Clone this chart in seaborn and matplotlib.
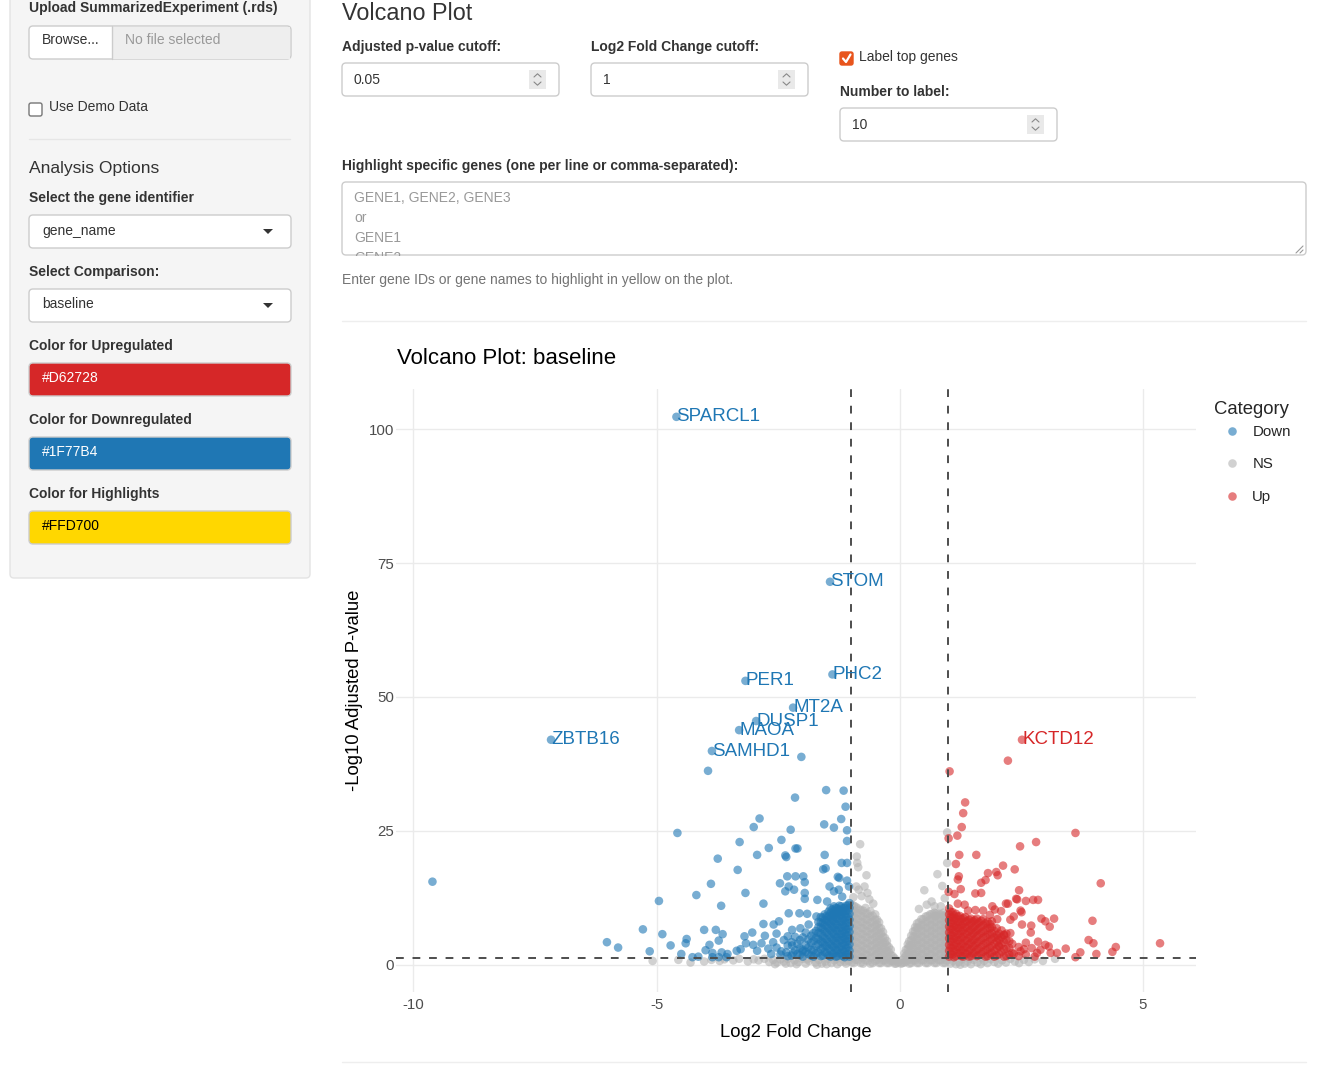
import numpy as np
import pandas as pd
import matplotlib.pyplot as plt
import seaborn as sns
from matplotlib.patches import FancyBboxPatch, Rectangle, Polygon

# ---- values ----
top_genes = ["SPARCL1", "STOM", "PHC2", "PER1", "MT2A", "DUSP1", "MAOA", "ZBTB16", "SAMHD1", "KCTD12"]
top_lfc = [-4.59, -1.43, -1.38, -3.17, -2.19, -2.95, -3.30, -7.17, -3.86, 2.52]
top_padj = [102.3, 71.5, 54.2, 53.0, 48.0, 45.5, 43.8, 42.0, 39.9, 42.0]
top_cat = ["Down"] * 9 + ["Up"]

down_points = [
    (-2.02, 38.8), (-3.94, 36.2), (-9.61, 15.5), (-1.51, 32.6), (-1.15, 32.5), (-2.15, 31.2),
    (-1.11, 29.5), (-2.88, 27.3), (-3.0, 25.7), (-1.2, 27.2), (-1.55, 26.2), (-1.35, 25.6),
    (-2.24, 25.2), (-1.08, 25.1), (-4.57, 24.6), (-3.29, 22.9), (-2.43, 23.3), (-1.08, 23.1),
    (-2.69, 21.8), (-2.14, 21.7), (-2.10, 21.7), (-2.93, 20.5), (-2.35, 20.4), (-2.33, 20.1),
    (-3.74, 19.8), (-1.54, 20.5), (-1.19, 19.0), (-1.08, 19.0), (-1.57, 17.8), (-1.52, 18.0),
    (-3.33, 17.7), (-2.31, 16.5), (-2.14, 16.5), (-1.98, 16.5), (-1.27, 16.4), (-1.24, 16.2),
    (-1.08, 15.7), (-3.88, 15.1), (-2.46, 15.2), (-2.28, 14.6), (-2.17, 14.0), (-2.35, 13.7),
    (-1.95, 15.4), (-1.44, 14.6), (-1.04, 14.6), (-4.18, 13.0), (-3.17, 13.4), (-1.95, 13.4),
    (-1.35, 13.7), (-1.25, 14.0), (-1.18, 12.7), (-4.95, 11.9), (-1.95, 12.3), (-3.67, 11.0),
    (-2.80, 11.4), (-1.69, 12.1), (-1.49, 11.8), (-2.28, 9.6), (-2.06, 9.6), (-1.90, 9.5),
    (-1.71, 9.0), (-2.80, 7.6), (-5.28, 6.6), (-4.88, 5.7), (-4.02, 6.5), (-3.78, 6.5),
    (-3.64, 5.7), (-3.19, 5.3), (-3.03, 6.0), (-2.77, 5.4), (-4.38, 4.8), (-3.72, 4.5),
    (-6.02, 4.2), (-5.79, 3.2), (-5.14, 2.5), (-4.71, 3.6), (-4.40, 4.0), (-3.91, 3.7),
    (-3.16, 4.0), (-3.01, 3.7), (-2.84, 4.0), (-4.49, 2.0), (-4.26, 1.4), (-4.14, 1.5),
    (-3.99, 2.7), (-3.85, 2.2), (-3.66, 2.3), (-3.54, 2.0), (-3.35, 2.6), (-3.27, 2.9),
    (-2.93, 2.6), (-2.59, 7.5), (-2.48, 8.1), (-2.53, 5.8), (-2.38, 4.6), (-2.21, 6.5),
    (-2.04, 6.8), (-1.87, 7.5), (-2.60, 4.2), (-2.53, 3.2), (-2.43, 2.5), (-2.33, 2.3),
    (-2.19, 2.2), (-1.99, 2.5), (-3.85, 1.4), (-3.72, 1.4), (-3.56, 1.4), (-2.70, 3.0),
    (-2.64, 2.0), (-2.30, 5.3), (-2.21, 3.6),
]
# dense mass of down genes just left of the -1 cutoff
down_block = {
    -1.03: [1.5, 2.6, 3.8, 4.9, 6.1, 7.2, 8.4, 9.5, 10.6, 11.5],
    -1.06: [2.0, 3.2, 4.4, 5.5, 6.7, 7.8, 9.0, 10.1, 11.1],
    -1.10: [1.9, 3.1, 4.3, 5.5, 6.6, 7.8, 8.9, 10.1, 11.0],
    -1.13: [1.4, 2.5, 3.7, 4.8, 6.0, 7.1, 8.3, 9.4, 10.6],
    -1.17: [1.6, 2.8, 4.0, 5.2, 6.3, 7.5, 8.6, 9.8, 10.5],
    -1.20: [2.2, 3.4, 4.6, 5.7, 6.9, 8.0, 9.2, 10.0, 10.9],
    -1.24: [2.1, 3.3, 4.6, 5.7, 6.9, 8.1, 9.2, 10.2, 11.0],
    -1.28: [1.6, 2.7, 3.9, 5.1, 6.3, 7.4, 8.6, 9.6, 10.5],
    -1.31: [1.5, 2.7, 3.9, 5.1, 6.4, 7.6, 8.8, 9.7, 10.6],
    -1.35: [2.1, 3.3, 4.5, 5.7, 6.9, 8.1, 9.1, 10.0, 10.9],
    -1.38: [2.0, 3.4, 4.7, 6.0, 7.1, 8.3, 9.3, 10.3],
    -1.42: [1.5, 2.6, 3.8, 5.1, 6.4, 7.6, 8.6, 9.6, 10.5],
    -1.46: [1.7, 3.0, 4.2, 5.6, 6.8, 8.0, 9.0, 9.9],
    -1.50: [2.2, 3.5, 4.7, 6.0, 7.2, 8.2, 9.1],
    -1.54: [2.3, 3.6, 4.9, 6.2, 7.4, 8.4, 9.4],
    -1.58: [1.7, 3.1, 4.2, 5.3, 6.7, 7.8, 8.8],
    -1.62: [1.6, 2.9, 4.4, 5.8, 6.9, 7.9, 8.9],
    -1.67: [2.3, 3.8, 4.8, 5.9, 7.0, 8.0],
    -1.72: [2.1, 3.5, 5.0, 6.3],
    -1.77: [1.5, 2.7, 4.4, 5.9],
    -1.82: [1.7, 2.8, 4.1, 5.4],
    -1.88: [2.0, 3.2, 4.7],
    -1.93: [2.4, 3.7, 6.0],
    -1.99: [1.5, 2.8, 5.1],
    -2.05: [1.8, 3.1, 4.6],
    -2.10: [2.0, 3.9],
    -2.15: [2.7, 5.2],
    -2.22: [1.7, 4.2],
    -2.30: [1.6, 3.6],
    -2.45: [1.9],
}

up_points = [
    (2.23, 38.1), (1.03, 36.1), (1.35, 30.3), (1.31, 28.3), (1.28, 25.7), (1.01, 23.6),
    (1.19, 24.1), (3.62, 24.6), (2.48, 22.1), (2.81, 22.9), (1.23, 20.5), (1.58, 20.5),
    (1.16, 18.8), (2.13, 18.5), (2.37, 17.8), (1.22, 16.5), (1.20, 15.9), (1.82, 17.1),
    (1.99, 17.3), (2.02, 16.7), (1.77, 15.8), (1.68, 15.3), (1.26, 14.1), (4.14, 15.2),
    (1.01, 13.6), (1.13, 13.2), (1.56, 13.3), (1.68, 13.4), (2.46, 13.9), (2.19, 11.4),
    (2.23, 11.4), (2.40, 12.3), (2.42, 12.2), (2.60, 11.9), (2.75, 12.1), (2.85, 12.1),
    (1.20, 11.4), (1.34, 11.2), (1.41, 10.1), (1.91, 10.9), (1.96, 10.3), (2.09, 10.0),
    (1.56, 10.2), (1.72, 10.1), (1.86, 9.3), (2.01, 8.5), (2.28, 8.4), (2.35, 9.0),
    (2.49, 10.1), (2.51, 9.8), (2.52, 7.5), (2.71, 7.3), (2.92, 8.6), (3.00, 8.1),
    (3.09, 7.1), (3.18, 8.6), (3.97, 8.2), (3.89, 4.6), (3.99, 4.0), (4.45, 3.3),
    (4.38, 2.4), (5.36, 4.0), (4.05, 2.0), (3.62, 1.4), (3.72, 2.3), (3.42, 3.0),
    (3.24, 2.2), (2.70, 6.0), (2.85, 4.3), (2.72, 3.1), (2.83, 2.2), (2.28, 5.9),
    (2.15, 5.6), (2.02, 5.0), (2.04, 3.5), (3.00, 3.7), (3.07, 3.4), (3.11, 2.2),
    (2.90, 2.8), (2.49, 2.5), (2.56, 2.9), (2.35, 2.0),
]
# dense mass of up genes just right of the +1 cutoff
up_block = {
    1.02: [1.5, 2.6, 3.7, 4.9, 6.0, 7.1, 8.3, 9.4, 10.5],
    1.05: [2.0, 3.2, 4.3, 5.5, 6.6, 7.7, 8.9, 9.9],
    1.09: [1.9, 3.1, 4.3, 5.4, 6.6, 7.7, 8.8, 9.8],
    1.12: [1.4, 2.5, 3.6, 4.8, 6.0, 7.1, 8.2, 9.2],
    1.16: [1.6, 2.8, 4.0, 5.1, 6.3, 7.4, 8.6, 9.5],
    1.20: [2.1, 3.3, 4.5, 5.6, 6.8, 7.9, 9.0],
    1.24: [2.2, 3.3, 4.6, 5.8, 6.9, 8.0, 9.1],
    1.27: [1.6, 2.7, 3.9, 5.1, 6.3, 7.4, 8.5],
    1.31: [1.5, 2.7, 3.9, 5.2, 6.4, 7.6, 8.7],
    1.35: [2.1, 3.3, 4.5, 5.8, 7.0, 8.0, 8.9],
    1.39: [2.0, 3.2, 4.5, 5.7, 6.9, 8.1],
    1.43: [1.5, 2.6, 3.8, 5.0, 6.2, 7.3, 8.4],
    1.47: [1.6, 2.9, 4.1, 5.3, 6.5, 7.7, 8.6],
    1.51: [2.1, 3.4, 4.6, 5.8, 6.9, 8.1],
    1.55: [2.3, 3.6, 4.8, 6.1, 7.2, 8.3],
    1.59: [1.6, 2.8, 4.1, 5.3, 6.4, 7.6, 8.6],
    1.63: [1.8, 3.0, 4.3, 5.6, 6.8, 7.9],
    1.68: [2.0, 3.3, 4.6, 5.9, 7.1, 8.2],
    1.72: [2.4, 3.7, 5.0, 6.2, 7.4, 8.5],
    1.77: [1.5, 2.7, 4.0, 5.2, 6.4, 7.7],
    1.81: [1.6, 2.9, 4.2, 5.6, 6.9, 8.0],
    1.86: [2.0, 3.2, 4.4, 5.6, 6.8, 7.6],
    1.90: [2.2, 3.5, 4.8, 5.9, 7.0, 8.1],
    1.95: [1.5, 2.6, 3.9, 5.1, 6.3],
    2.00: [1.7, 3.0, 4.3, 5.5, 6.8],
    2.05: [2.0, 3.4, 4.6, 5.8],
    2.10: [2.4, 3.8, 5.1, 6.4],
    2.15: [1.5, 2.9, 4.2, 5.5],
    2.20: [1.6, 3.0, 4.6, 5.8],
    2.26: [1.9, 3.1, 4.4],
    2.32: [2.2, 3.9],
    2.45: [1.6, 3.3],
    2.60: [1.9, 4.1],
    2.78: [1.5],
}

ns_points = [
    (-0.81, 22.5), (-0.88, 20.2), (-0.87, 19.0), (-0.85, 18.2), (-0.68, 16.7), (-0.89, 14.6),
    (-0.72, 14.6), (-0.66, 13.4), (-0.84, 14.0), (-0.54, 11.4), (-0.78, 12.8), (-0.62, 12.2),
    (-0.95, 12.6), (0.98, 24.7), (0.98, 19.0), (0.78, 16.9), (0.88, 14.7), (0.51, 13.9),
    (0.56, 11.2), (0.66, 11.8), (0.72, 10.9), (0.85, 10.9), (0.93, 12.4), (0.40, 10.4),
    (-5.08, 0.7), (-4.55, 0.9), (-4.30, 0.4), (-4.02, 0.6), (-3.87, 0.9), (-3.70, 0.7),
    (-3.60, 1.0), (-3.42, 0.8), (-3.30, 1.1), (-3.12, 0.6), (-3.00, 1.0), (-2.90, 0.8),
    (-2.78, 1.1), (-2.68, 0.5), (-2.60, 0.9), (-2.52, 0.4), (-2.45, 1.0), (-2.38, 0.6),
    (-2.30, 1.1), (-2.24, 0.3), (-2.16, 0.8), (-2.08, 0.5), (-2.00, 1.1), (-1.93, 0.2),
    (-1.86, 0.7), (-1.80, 1.2), (-1.73, 0.4), (-1.66, 0.9), (-1.60, 0.2), (-1.53, 0.6),
    (-1.47, 1.1), (-1.40, 0.3), (-1.34, 0.8), (-1.28, 0.1), (-1.22, 0.5), (-1.16, 1.0),
    (-1.10, 0.2), (-1.05, 0.7), (-2.56, 0.1), (-2.34, 0.2), (-2.12, 0.1), (-1.90, 1.0),
    (-1.70, 0.0), (-1.50, 0.1), (-1.30, 1.1), (-1.13, 0.6), (-1.02, 1.2),
    (1.05, 0.2), (1.10, 0.7), (1.16, 0.1), (1.22, 0.5), (1.28, 1.0), (1.34, 0.2),
    (1.40, 0.6), (1.47, 0.1), (1.53, 0.9), (1.60, 0.4), (1.67, 0.1), (1.74, 0.7),
    (1.81, 0.3), (1.88, 1.0), (1.95, 0.5), (2.03, 0.2), (2.11, 0.8), (2.19, 0.4),
    (2.28, 1.1), (2.37, 0.6), (2.46, 0.3), (2.56, 0.9), (2.66, 0.5), (2.78, 1.0),
    (2.95, 0.7), (3.20, 1.1), (1.08, 1.2), (1.25, 0.0), (1.44, 1.1), (1.70, 1.2),
]
# the two grey humps either side of zero
ns_left = {
    -0.98: [0.4, 1.5, 2.6, 3.7, 4.8, 5.9, 7.0, 8.1, 9.2, 10.3, 11.2],
    -0.94: [0.3, 1.4, 2.5, 3.6, 4.7, 5.8, 6.9, 8.0, 9.1, 10.2, 11.0],
    -0.90: [0.9, 2.0, 3.1, 4.2, 5.3, 6.4, 7.5, 8.6, 9.7, 10.8],
    -0.85: [0.8, 1.9, 3.0, 4.1, 5.2, 6.3, 7.4, 8.5, 9.6, 10.5],
    -0.80: [0.3, 1.4, 2.5, 3.6, 4.7, 5.8, 6.9, 8.0, 9.1, 10.2],
    -0.75: [0.2, 1.3, 2.4, 3.5, 4.6, 5.7, 6.8, 7.9, 9.0, 10.1],
    -0.70: [0.8, 1.9, 3.0, 4.1, 5.2, 6.3, 7.4, 8.5, 9.6, 10.6],
    -0.65: [0.7, 1.8, 2.9, 4.0, 5.1, 6.2, 7.3, 8.4, 9.5],
    -0.60: [0.2, 1.3, 2.4, 3.5, 4.6, 5.7, 6.8, 7.9, 9.0, 10.0],
    -0.55: [0.3, 1.4, 2.5, 3.6, 4.7, 5.8, 6.9, 8.0, 9.1],
    -0.50: [0.7, 1.8, 2.9, 4.0, 5.1, 6.2, 7.3, 8.4, 9.4],
    -0.46: [0.9, 2.0, 3.1, 4.2, 5.3, 6.4, 7.5, 8.4],
    -0.42: [0.3, 1.4, 2.5, 3.6, 4.7, 5.8, 6.9, 7.9],
    -0.38: [0.3, 1.4, 2.5, 3.6, 4.7, 5.8, 6.8],
    -0.34: [0.8, 1.9, 3.0, 4.1, 5.2, 6.1],
    -0.30: [0.8, 1.9, 3.0, 4.1, 5.0],
    -0.26: [0.3, 1.4, 2.5, 3.6, 4.4],
    -0.22: [0.3, 1.3, 2.4, 3.3],
    -0.18: [0.7, 1.8, 2.8],
    -0.14: [0.6, 1.6],
    -0.10: [0.2, 1.2],
    -0.07: [0.2, 0.8],
    -0.03: [0.4],
}
ns_right = {
    0.03: [0.2],
    0.06: [0.3, 0.9],
    0.10: [0.4, 1.3, 2.1],
    0.13: [0.6, 1.7, 2.8],
    0.17: [0.8, 1.9, 3.0, 3.8],
    0.20: [0.2, 1.3, 2.4, 3.5, 4.4],
    0.24: [0.3, 1.4, 2.5, 3.6, 4.6, 5.4],
    0.28: [0.8, 1.9, 3.0, 4.1, 5.2, 6.2],
    0.32: [0.8, 1.9, 3.0, 4.1, 5.2, 6.3, 7.0],
    0.36: [0.3, 1.4, 2.5, 3.6, 4.7, 5.8, 6.9, 7.7],
    0.40: [0.3, 1.4, 2.5, 3.6, 4.7, 5.8, 6.9, 7.9],
    0.45: [0.8, 1.9, 3.0, 4.1, 5.2, 6.3, 7.4, 8.5],
    0.49: [0.8, 1.9, 3.0, 4.1, 5.2, 6.3, 7.4, 8.5],
    0.54: [0.3, 1.4, 2.5, 3.6, 4.7, 5.8, 6.9, 8.0, 9.0],
    0.58: [0.3, 1.4, 2.5, 3.6, 4.7, 5.8, 6.9, 8.0, 9.1],
    0.63: [0.8, 1.9, 3.0, 4.1, 5.2, 6.3, 7.4, 8.5, 9.4],
    0.67: [0.8, 1.9, 3.0, 4.1, 5.2, 6.3, 7.4, 8.5, 9.5],
    0.72: [0.3, 1.4, 2.5, 3.6, 4.7, 5.8, 6.9, 8.0, 9.1, 9.7],
    0.76: [0.3, 1.4, 2.5, 3.6, 4.7, 5.8, 6.9, 8.0, 9.1, 9.6],
    0.81: [0.8, 1.9, 3.0, 4.1, 5.2, 6.3, 7.4, 8.5, 9.5],
    0.85: [0.8, 1.9, 3.0, 4.1, 5.2, 6.3, 7.4, 8.5, 9.4],
    0.90: [0.3, 1.4, 2.5, 3.6, 4.7, 5.8, 6.9, 8.0, 9.1, 9.7],
    0.94: [0.3, 1.4, 2.5, 3.6, 4.7, 5.8, 6.9, 8.0, 9.0],
    0.97: [0.8, 1.9, 3.0, 4.1, 5.2, 6.3, 7.4, 8.5, 9.4],
}

padj_cutoff_log = 1.30   # -log10(0.05)
lfc_cutoff = 1
palette = {"Down": "#1F77B4", "NS": "#B3B3B3", "Up": "#D62728"}


def expand(block):
    return [(x, y) for x, ys in block.items() for y in ys]


def make_df():
    parts = [
        ("NS", ns_points + expand(ns_left) + expand(ns_right)),
        ("Down", down_points + expand(down_block)),
        ("Up", up_points + expand(up_block)),
    ]
    rows = []
    for cat, pts in parts:
        rows += [{"log2FoldChange": x, "neglog10padj": y, "Category": cat} for x, y in pts]
    for g, x, y, c in zip(top_genes, top_lfc, top_padj, top_cat):
        rows.append({"log2FoldChange": x, "neglog10padj": y, "Category": c})
    return pd.DataFrame(rows)


W, H = 1321, 1070
sns.set_theme(style="white")
plt.rcParams["font.family"] = ["Liberation Sans", "DejaVu Sans"]
plt.rcParams["axes.unicode_minus"] = False

fig = plt.figure(figsize=(W / 100, H / 100), dpi=100, facecolor="white")

# ---- page chrome (pixel coordinates) ----
ui = fig.add_axes([0, 0, 1, 1])
ui.set_xlim(0, W)
ui.set_ylim(H, 0)
ui.axis("off")

TXT = "#333333"


def box(x, y, w, h, fc="white", ec="#CCCCCC", r=4, lw=1, z=1):
    p = FancyBboxPatch((x, y), w, h, boxstyle=f"round,pad=0,rounding_size={r}", fc=fc, ec=ec, lw=lw, zorder=z)
    ui.add_patch(p)
    return p


def label(x, y, s, size=10, bold=False, color=TXT, **kw):
    ui.text(x, y, s, fontsize=size, fontweight="bold" if bold else "normal", color=color,
            va="center", ha="left", **kw)


def spinner(x, y):
    ui.add_patch(Rectangle((x, y), 17, 19, fc="#E9E9E9", ec="none"))
    cx = x + 8.5
    ui.plot([cx - 3.5, cx, cx + 3.5], [y + 7, y + 3.8, y + 7], color="#888888", lw=0.8)
    ui.plot([cx - 3.5, cx, cx + 3.5], [y + 12, y + 15.2, y + 12], color="#888888", lw=0.8)


def caret(x, y):
    ui.add_patch(Polygon([(x - 5, y - 2), (x + 5, y - 2), (x, y + 3)], fc="#333333", ec="none"))


# sidebar
box(10, -12, 300, 590, fc="#F5F5F5", ec="#E3E3E3")
label(29, 8, "Upload SummarizedExperiment (.rds)", bold=True)
box(29, 26, 262, 33)
ui.add_patch(Rectangle((112, 26.5), 178, 32, fc="#EEEEEE", ec="none"))
ui.plot([112, 112], [26, 59], color="#CCCCCC", lw=1)
label(42, 40, "Browse...")
label(125, 40, "No file selected", color="#999999")
box(29, 103, 13, 13, fc="white", ec="#767676", r=2)
label(49, 107, "Use Demo Data")
ui.plot([29, 290], [139, 139], color="#E6E6E6", lw=1)
label(29, 168, "Analysis Options", size=12.6)
label(29, 198, "Select the gene identifier", bold=True)
box(29, 215, 262, 33)
label(42, 231, "gene_name")
caret(268, 231)
label(29, 272, "Select Comparison:", bold=True)
box(29, 289, 262, 33)
label(42, 304, "baseline")
caret(268, 305)
label(29, 346, "Color for Upregulated", bold=True)
box(29, 363, 262, 33, fc="#D62728")
label(42, 378, "#D62728", color="white")
label(29, 420, "Color for Downregulated", bold=True)
box(29, 437, 262, 33, fc="#1F77B4")
label(42, 452, "#1F77B4", color="white")
label(29, 494, "Color for Highlights", bold=True)
box(29, 511, 262, 33, fc="#FFD700")
label(42, 526, "#FFD700", color="black")

# main panel inputs
label(342, 13, "Volcano Plot", size=16.8)
label(342, 47, "Adjusted p-value cutoff:", bold=True)
box(342, 63, 217, 33)
label(354, 80, "0.05")
spinner(529, 70)
label(591, 47, "Log2 Fold Change cutoff:", bold=True)
box(591, 63, 217, 33)
label(603, 80, "1")
spinner(778, 70)
box(840, 52, 13, 13, fc="#E8541C", ec="#E8541C", r=2)
ui.plot([843, 846, 850.5], [58.5, 62, 54.5], color="white", lw=1.6, solid_capstyle="round")
label(859, 57, "Label top genes")
label(840, 92, "Number to label:", bold=True)
box(840, 108, 217, 33)
label(852, 125, "10")
spinner(1027, 115)
label(342, 166, "Highlight specific genes (one per line or comma-separated):", bold=True)
box(342, 182, 964, 73)
for yy, s in zip([198, 218, 238, 258], ["GENE1, GENE2, GENE3", "or", "GENE1", "GENE2"]):
    ui.text(354, yy, s, fontsize=10, color="#999999", va="center", ha="left", zorder=2)
# the textarea cuts its last placeholder line
ui.add_patch(Rectangle((343, 255.8), 300, 14, fc="white", ec="none", zorder=3))
ui.plot([1296, 1303], [253, 246], color="#999999", lw=0.8)
ui.plot([1300, 1303], [253, 250], color="#999999", lw=0.8)
label(342, 280, "Enter gene IDs or gene names to highlight in yellow on the plot.", color="#737373")
ui.plot([342, 1306], [321, 321], color="#EEEEEE", lw=1)
ui.plot([342, 1306], [1062, 1062], color="#EEEEEE", lw=1)
ui.text(397, 358, "Volcano Plot: baseline", fontsize=16, color="black", va="center", ha="left")

# ---- the volcano plot ----
df = make_df()
ax = fig.add_axes([396 / W, 1 - 992 / H, 800 / W, 603 / H])
ax.patch.set_alpha(0)
sns.scatterplot(data=df, x="log2FoldChange", y="neglog10padj", hue="Category",
                hue_order=["Down", "NS", "Up"], palette=palette, alpha=0.6, s=38,
                linewidth=0, ax=ax, zorder=2)

ax.axvline(-lfc_cutoff, color="#4D4D4D", lw=1.4, ls=(0, (4, 4.5)), zorder=3)
ax.axvline(lfc_cutoff, color="#4D4D4D", lw=1.4, ls=(0, (4, 4.5)), zorder=3)
ax.axhline(padj_cutoff_log, color="#4D4D4D", lw=1.4, ls=(0, (4, 4.5)), zorder=3)

for g, x, y, c in zip(top_genes, top_lfc, top_padj, top_cat):
    ax.text(x, y, g, color=palette[c], fontsize=13.5, ha="left", va="center", zorder=4)

ax.set_xlim(-10.36, 6.1)
ax.set_ylim(-5.1, 107.5)
ax.set_xticks([-10, -5, 0, 5])
ax.set_yticks([0, 25, 50, 75, 100])
ax.set_axisbelow(True)
ax.grid(True, color="#EBEBEB", lw=1.0)
for sp in ax.spines.values():
    sp.set_visible(False)
ax.tick_params(length=0, labelsize=10.8, labelcolor="#4D4D4D")
ax.tick_params(axis="x", pad=4)
ax.tick_params(axis="y", pad=1.5)
ax.set_xlabel("Log2 Fold Change", fontsize=13.3, color="black", labelpad=9)
ax.set_ylabel("-Log10 Adjusted P-value", fontsize=13.3, color="black", labelpad=4)

sns.move_legend(ax, "upper left", bbox_to_anchor=(1.0225, 0.980), frameon=False,
                title="Category", title_fontsize=13.3, fontsize=10.8, handlelength=2.4,
                handletextpad=0.15, labelspacing=1.23, borderpad=0, borderaxespad=0,
                alignment="left")
leg = ax.get_legend()
leg._legend_box.sep = 5  # tighter gap under the legend title, as in ggplot

fig.savefig("out.png", dpi=100, facecolor="white")
